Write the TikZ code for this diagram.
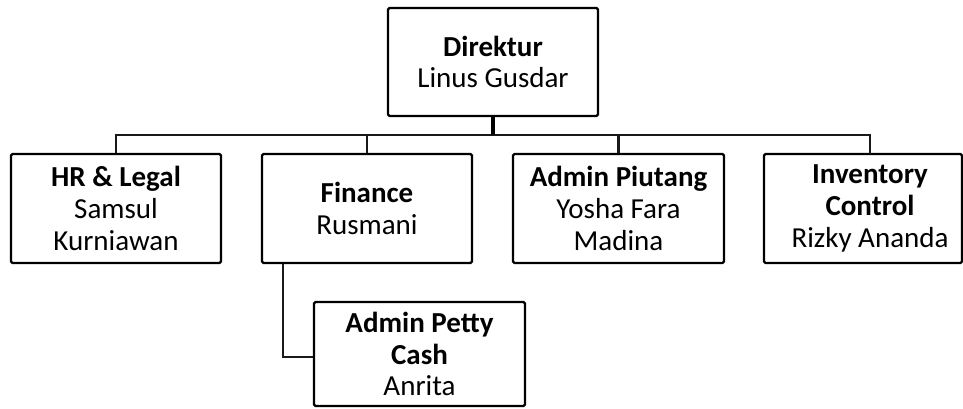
\documentclass[tikz,border=0pt]{standalone}
\usepackage{fontspec}
\setmainfont{Carlito}
\begin{document}
\begin{tikzpicture}[x=1pt,y=-1pt,
  box/.style={draw=black, line width=2.4pt, rounded corners=1.5pt, inner sep=0pt,
    minimum height=109pt, minimum width=210pt, align=center,
    font=\fontsize{29pt}{31.7pt}\selectfont, text=black},
  txt/.style={inner sep=0pt, align=center, font=\fontsize{29pt}{31.7pt}\selectfont, text=black},
  conn/.style={draw=black!90, line width=2.2pt},
  stub/.style={draw=black, line width=4pt}]
\useasboundingbox (0,0) rectangle (963,408);
\node[box, minimum height=108pt] (dir) at (493,62) {\textbf{Direktur}\\Linus Gusdar};
\node[box] (hr) at (116,208.5) {\textbf{HR \& Legal}\\Samsul\\Kurniawan};
\node[box] (fin) at (367,208.5) {\textbf{Finance}\\Rusmani};
\node[box, minimum width=211pt] (piu) at (618.5,208.5) {\textbf{Admin Piutang}\\Yosha Fara\\Madina};
\node[box, minimum width=198pt] (inv) at (863,208.5) {};
\node[txt] (invt) at (870,208.5) {\textbf{Inventory}\\\textbf{Control}\\Rizky Ananda};
\node[box, minimum width=211pt, minimum height=104pt] (pet) at (419.5,354) {\textbf{Admin Petty}\\\textbf{Cash}\\Anrita};
\coordinate (bus) at (493,135);
\coordinate (invtop) at (870,154);
\draw[conn] (hr.north) |- (bus) -| (invtop);
\draw[conn] (fin.north) -- (fin.north |- bus);
\draw[conn] (piu.north) -- (piu.north |- bus);
\draw[stub] (dir.south) -- (bus);
\draw[conn] ([xshift=-84pt]fin.south) |- ([yshift=-3pt]pet.west);
\end{tikzpicture}
\end{document}
